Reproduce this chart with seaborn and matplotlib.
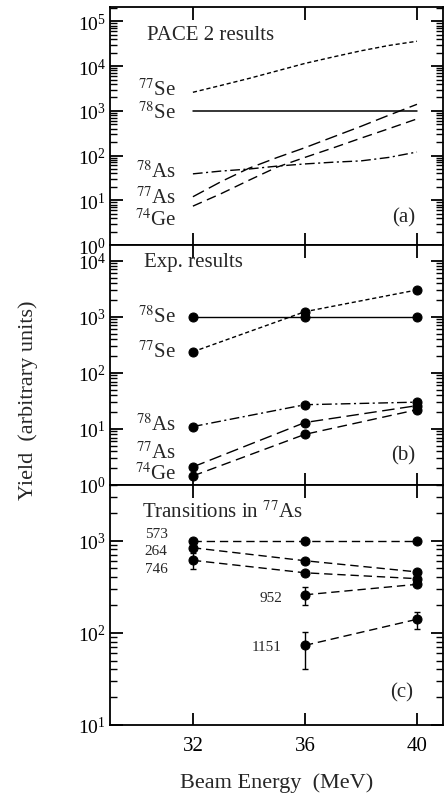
import numpy as np
import pandas as pd
import matplotlib
matplotlib.use("Agg")
import matplotlib.pyplot as plt
import matplotlib.ticker as mticker
import seaborn as sns

# ---- data ----
energy = [32, 36, 40]

# (a) PACE 2 calculations
pace_energy = [32, 33, 34, 35, 36, 37, 38, 39, 40]
pace_se77 = [2600, 3700, 5300, 7800, 11500, 16000, 22000, 29000, 36000]
pace_se78 = [1000, 1000, 1000, 1000, 1000, 1000, 1000, 1000, 1000]
pace_as78 = [39, 45, 50, 58, 65, 71, 76, 91, 120]
pace_as77 = [12, 26, 52, 90, 150, 260, 450, 800, 1400]
pace_ge74 = [7.4, 14, 28, 55, 91, 148, 245, 400, 660]

# (b) experimental yields
exp_se78 = [1000, 1000, 1000]
exp_se77 = [237, 1230, 3000]
exp_as78 = [11, 27, 30]
exp_as77 = [2.1, 13, 26]
exp_ge74 = [1.45, 8, 22]

# (c) transitions in 77As
tr_573 = [1000, 1000, 1000]
tr_264 = [835, 604, 457]
tr_746 = [610, 447, 386]
tr_746_err = [120, 0, 0]
tr_952_e = [36, 40]
tr_952 = [258, 335]
tr_952_lo = [58, 0]
tr_952_hi = [56, 0]
tr_1151_e = [36, 40]
tr_1151 = [73, 140]
tr_1151_lo = [33, 31]
tr_1151_hi = [29, 28]

sns.set_style("ticks")
plt.rcParams['font.family'] = ['Liberation Serif', 'DejaVu Serif']
plt.rcParams['mathtext.fontset'] = 'stix'

fig = plt.figure(figsize=(4.46, 8.04), dpi=100)
left, width = 110 / 446, 333 / 446
ax_a = fig.add_axes([left, 1 - 246 / 804, width, 238 / 804])
ax_b = fig.add_axes([left, 1 - 486 / 804, width, 240 / 804])
ax_c = fig.add_axes([left, 1 - 726 / 804, width, 240 / 804])

k = 'black'
short = (0, (3, 2))
dashdot = (0, (7, 2.5, 1.5, 2.5))
longd = (0, (9, 4))
medd = (0, (7, 4))

# panel (a)
sns.lineplot(x=pace_energy, y=pace_se77, ax=ax_a, color=k, lw=1, linestyle=short)
sns.lineplot(x=pace_energy, y=pace_se78, ax=ax_a, color=k, lw=1.1, linestyle='-')
sns.lineplot(x=pace_energy, y=pace_as78, ax=ax_a, color=k, lw=1, linestyle=dashdot)
sns.lineplot(x=pace_energy, y=pace_as77, ax=ax_a, color=k, lw=1, linestyle=longd)
sns.lineplot(x=pace_energy, y=pace_ge74, ax=ax_a, color=k, lw=1, linestyle=medd)

# panel (b)
mk = dict(color=k, lw=1, marker='o', markersize=6.5, markeredgecolor=k)
sns.lineplot(x=energy, y=exp_se78, ax=ax_b, linestyle='-', **mk)
sns.lineplot(x=energy, y=exp_se77, ax=ax_b, linestyle=short, **mk)
sns.lineplot(x=energy, y=exp_as78, ax=ax_b, linestyle=dashdot, **mk)
sns.lineplot(x=energy, y=exp_as77, ax=ax_b, linestyle=longd, **mk)
sns.lineplot(x=energy, y=exp_ge74, ax=ax_b, linestyle=medd, **mk)

# panel (c)
tdash = (0, (6, 3.5))
sns.lineplot(x=energy, y=tr_573, ax=ax_c, linestyle=tdash, **mk)
sns.lineplot(x=energy, y=tr_264, ax=ax_c, linestyle=tdash, **mk)
sns.lineplot(x=energy, y=tr_746, ax=ax_c, linestyle=tdash, **mk)
sns.lineplot(x=tr_952_e, y=tr_952, ax=ax_c, linestyle=tdash, **mk)
sns.lineplot(x=tr_1151_e, y=tr_1151, ax=ax_c, linestyle=tdash, **mk)
ax_c.errorbar(energy, tr_746, yerr=tr_746_err, fmt='none', ecolor=k, elinewidth=1, capsize=2.5)
ax_c.errorbar(tr_952_e, tr_952, yerr=[tr_952_lo, tr_952_hi], fmt='none', ecolor=k, elinewidth=1, capsize=2.5)
ax_c.errorbar(tr_1151_e, tr_1151, yerr=[tr_1151_lo, tr_1151_hi], fmt='none', ecolor=k, elinewidth=1, capsize=2.5)

limits = {ax_a: (1, 2.1e5), ax_b: (1, 1.9e4), ax_c: (10, 4000)}
for ax, yl in limits.items():
    ax.set_yscale('log')
    ax.set_ylim(*yl)
    ax.set_xlim(29.04, 40.93)
    ax.set_xticks([32, 36, 40])
    ax.xaxis.set_minor_locator(mticker.NullLocator())
    ax.yaxis.set_major_locator(mticker.LogLocator(base=10, numticks=10))
    ax.yaxis.set_minor_locator(mticker.LogLocator(base=10, subs=(2., 3., 4., 5., 6., 7., 8., 9.),
                                                  numticks=12))
    ax.yaxis.set_minor_formatter(mticker.NullFormatter())
    ax.tick_params(axis='both', which='major', direction='in', top=True, right=True,
                   length=9, width=1.3, colors=k, labelsize=14, pad=3)
    ax.tick_params(axis='y', which='minor', direction='in', left=True, right=True,
                   length=5, width=1.0, color=k)
    ax.set_xlabel('')
    ax.set_ylabel('')
    for s in ax.spines.values():
        s.set_linewidth(1.3)
        s.set_color(k)
for ax in (ax_a, ax_b):
    ax.tick_params(axis='x', labelbottom=False)
ax_c.tick_params(axis='x', labelsize=15, pad=8)

lab = 15
ax_a.text(30.36, 52000, 'PACE 2 results', fontsize=lab, va='center')
for txt, y in [(r'$^{77}$Se', 3000), (r'$^{78}$Se', 950), (r'$^{78}$As', 45),
               (r'$^{77}$As', 12), (r'$^{74}$Ge', 3.8)]:
    ax_a.text(31.4, y, txt, fontsize=lab, ha='right', va='center')
ax_a.text(39.95, 4.2, '(a)', fontsize=lab, ha='right', va='center')

ax_b.text(30.25, 9500, 'Exp. results', fontsize=lab, va='center')
for txt, y in [(r'$^{78}$Se', 1040), (r'$^{77}$Se', 245), (r'$^{78}$As', 12),
               (r'$^{77}$As', 3.9), (r'$^{74}$Ge', 1.6)]:
    ax_b.text(31.4, y, txt, fontsize=lab, ha='right', va='center')
ax_b.text(39.95, 3.5, '(b)', fontsize=lab, ha='right', va='center')

ax_c.text(30.2, 2070, r'Transitions in $^{77}$As', fontsize=lab, va='center')
for txt, x, y in [('573', 31.1, 1200), ('264', 31.1, 780), ('746', 31.1, 500),
                  ('952', 35.18, 240), ('1151', 35.15, 71)]:
    ax_c.text(x, y, txt, fontsize=11, ha='right', va='center')
ax_c.text(39.85, 23, '(c)', fontsize=lab, ha='right', va='center')

fig.text(28 / 446, 1 - 400 / 804, 'Yield  (arbitrary units)', rotation=90,
         fontsize=16, ha='center', va='center')
fig.text((110 + 443) / 2 / 446, 1 - 783 / 804, 'Beam Energy  (MeV)',
         fontsize=16, ha='center', va='center')

fig.savefig('out.png', dpi=100)
